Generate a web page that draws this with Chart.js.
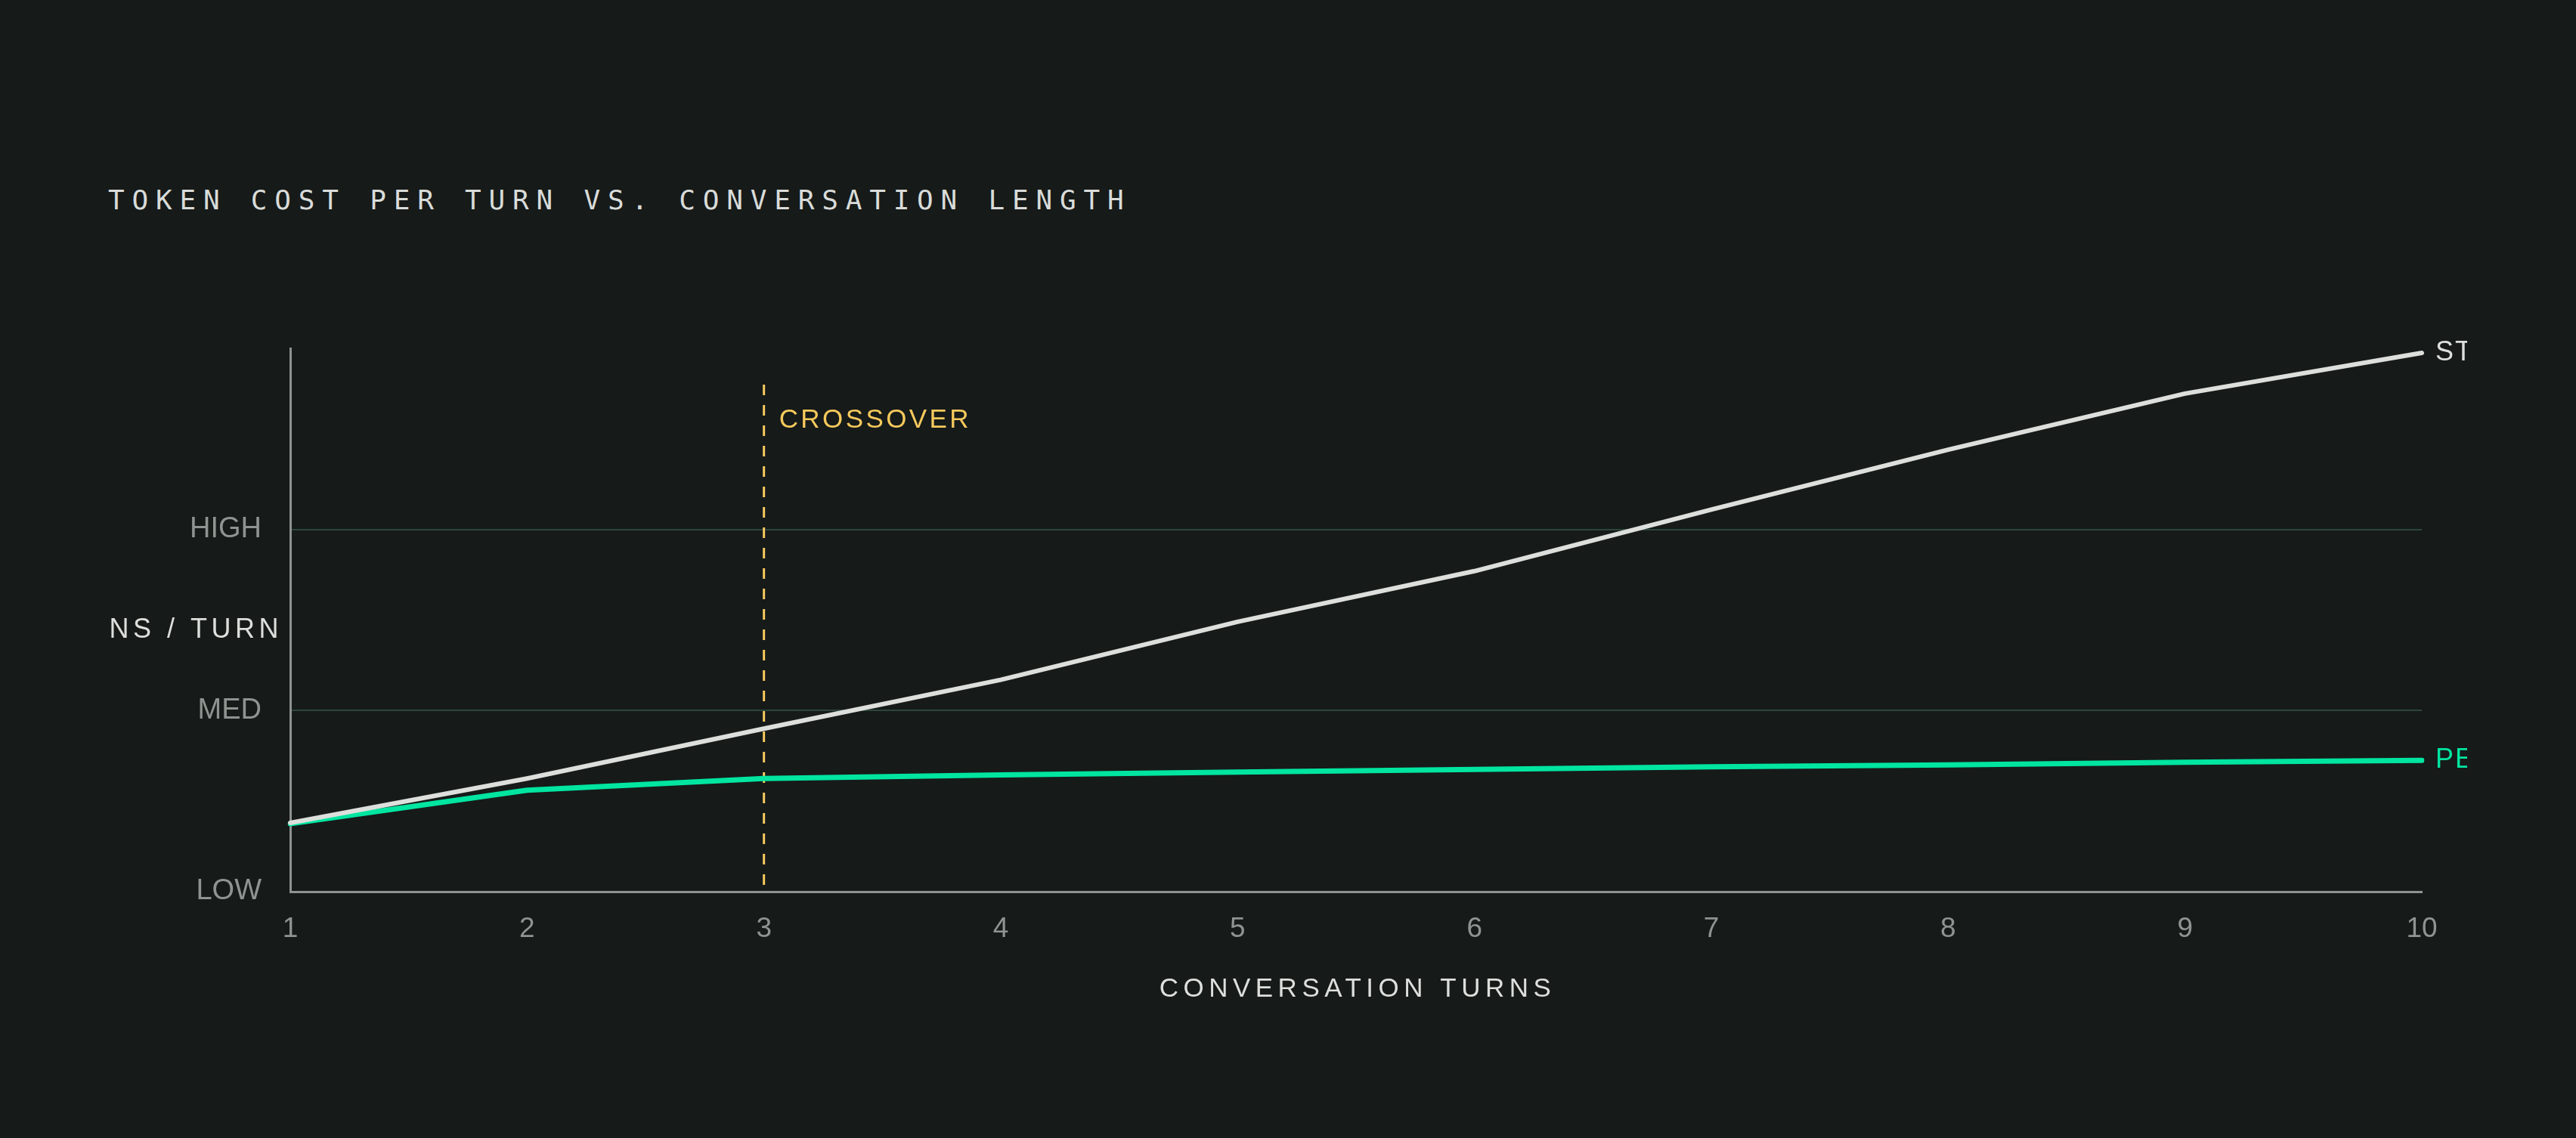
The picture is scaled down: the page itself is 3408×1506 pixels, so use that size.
<!DOCTYPE html>
<html>
<head>
    <title>Token Cost per Turn</title>
    <script src="https://cdn.jsdelivr.net/npm/chart.js"></script>
    <style>
        html, body {
            margin: 0;
            padding: 0;
            width: 3408px;
            height: 1506px;
            background: #161a19;
            overflow: hidden;
        }
        h1 {
            position: absolute;
            left: 143px;
            top: 247px;
            margin: 0;
            font-family: "DejaVu Sans Mono", monospace;
            font-weight: normal;
            font-size: 36px;
            line-height: 36px;
            letter-spacing: 9.8px;
            color: #d9dcd9;
            white-space: nowrap;
        }
        .chart-container {
            position: absolute;
            left: 143px;
            top: 0;
            width: 3121px;
            height: 1506px;
        }
    </style>
</head>
<body>
    <h1>TOKEN COST PER TURN VS. CONVERSATION LENGTH</h1>
    <div class="chart-container">
        <canvas id="myChart"></canvas>
    </div>
    <script>
        // values, 0 = LOW, 1 = MED, 2 = HIGH
        const turns = ['1', '2', '3', '4', '5', '6', '7', '8', '9', '10'];
        const standardCost = [0.38, 0.625, 0.90, 1.17, 1.49, 1.77, 2.11, 2.44, 2.75, 2.975];
        const persistentCost = [0.375, 0.56, 0.625, 0.645, 0.66, 0.675, 0.69, 0.70, 0.715, 0.725];
        const yTickLabels = ['LOW', 'MED', 'HIGH'];
        const seriesNames = ['STANDARD', 'PERSISTENT'];
        const crossoverTurn = '3';

        const colors = {
            standard: '#dcdfdb',
            persistent: '#00e5a0',
            crossover: '#f5c95c',
            grid: '#2b463d',
            axis: '#8e9290',
            tick: '#8f9491',
            text: '#dcdfdb'
        };
        const sansFont = '"Liberation Sans", Arial, sans-serif';

        function spacedText(ctx, text, x, y, opts) {
            ctx.save();
            ctx.font = opts.font;
            ctx.fillStyle = opts.color;
            ctx.textAlign = opts.align || 'left';
            ctx.textBaseline = 'middle';
            ctx.letterSpacing = opts.spacing || '0px';
            ctx.fillText(text, x, y);
            ctx.restore();
        }

        // crossover marker, line end labels and axis titles
        const decorations = {
            id: 'decorations',
            beforeDatasetsDraw(chart) {
                const { ctx, scales: { x, y } } = chart;
                const cx = x.getPixelForValue(turns.indexOf(crossoverTurn));
                const top = y.getPixelForValue(2.8);
                ctx.save();
                ctx.strokeStyle = colors.crossover;
                ctx.lineWidth = 3;
                ctx.setLineDash([14, 13]);
                ctx.beginPath();
                ctx.moveTo(cx, top);
                ctx.lineTo(cx, y.getPixelForValue(0));
                ctx.stroke();
                ctx.restore();
                spacedText(ctx, 'CROSSOVER', cx + 20, top + 47, {
                    font: '35px ' + sansFont, color: colors.crossover, spacing: '3.4px'
                });
            },
            afterDatasetsDraw(chart) {
                const { ctx, chartArea } = chart;
                chart.data.datasets.forEach((ds, i) => {
                    const pts = chart.getDatasetMeta(i).data;
                    const last = pts[pts.length - 1];
                    spacedText(ctx, seriesNames[i], chartArea.right + 18, last.y, {
                        font: '36px ' + sansFont, color: ds.borderColor, spacing: '2px'
                    });
                });
                spacedText(ctx, 'TOKENS / TURN', chartArea.left - 10, (chartArea.top + chartArea.bottom) / 2 + 14, {
                    font: '36px ' + sansFont, color: colors.text, spacing: '5.5px', align: 'right'
                });
                spacedText(ctx, 'CONVERSATION TURNS', (chartArea.left + chartArea.right) / 2 + 2, chartArea.bottom + 129, {
                    font: '35px ' + sansFont, color: colors.text, spacing: '6.5px', align: 'center'
                });
            }
        };

        const ctx = document.getElementById('myChart').getContext('2d');
        new Chart(ctx, {
            type: 'line',
            data: {
                labels: turns,
                datasets: [
                    {
                        label: seriesNames[0],
                        data: standardCost,
                        borderColor: colors.standard,
                        borderWidth: 6
                    },
                    {
                        label: seriesNames[1],
                        data: persistentCost,
                        borderColor: colors.persistent,
                        borderWidth: 7
                    }
                ]
            },
            options: {
                responsive: true,
                maintainAspectRatio: false,
                animation: false,
                devicePixelRatio: 1,
                layout: {
                    padding: { left: 0, top: 461, right: 60, bottom: 166 }
                },
                elements: {
                    point: { radius: 0, hoverRadius: 0 },
                    line: { tension: 0, borderCapStyle: 'round', borderJoinStyle: 'round' }
                },
                plugins: {
                    legend: { display: false },
                    tooltip: { enabled: false }
                },
                scales: {
                    x: {
                        grid: { display: false, drawTicks: false },
                        border: { color: colors.axis, width: 3 },
                        ticks: {
                            color: colors.tick,
                            font: { family: sansFont, size: 37 },
                            padding: 28,
                            maxRotation: 0
                        },
                        afterFit(scale) { scale.height = 160; }
                    },
                    y: {
                        min: 0,
                        max: 3,
                        grid: {
                            drawTicks: false,
                            lineWidth: 2,
                            color: c => (c.tick.value === 1 || c.tick.value === 2) ? colors.grid : 'transparent'
                        },
                        border: { color: colors.axis, width: 3 },
                        ticks: {
                            stepSize: 1,
                            color: colors.tick,
                            font: { family: sansFont, size: 38 },
                            padding: 38,
                            callback: v => yTickLabels[v] || ''
                        },
                        afterFit(scale) { scale.width = 241; }
                    }
                }
            },
            plugins: [decorations]
        });
    </script>
</body>
</html>
